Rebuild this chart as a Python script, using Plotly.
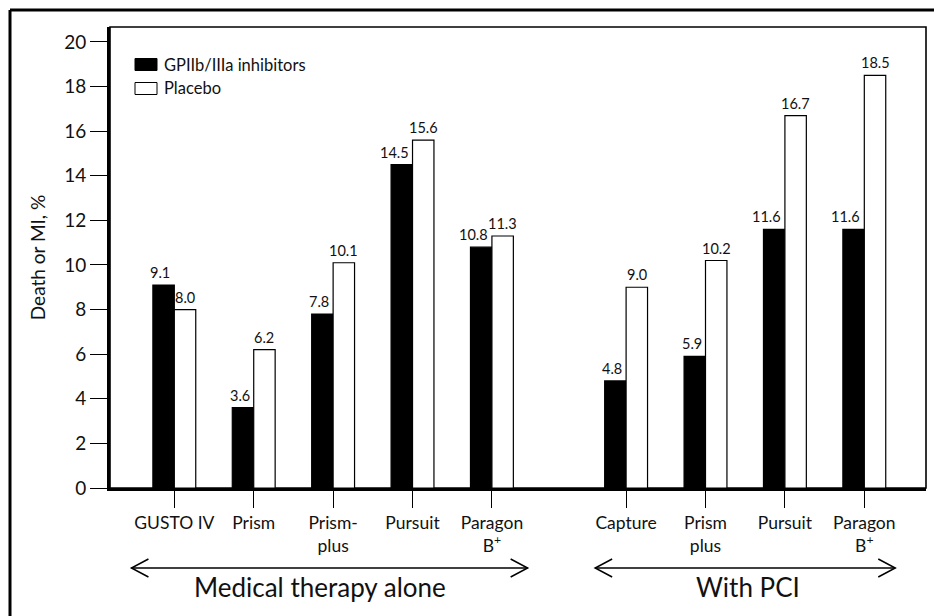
import plotly.graph_objects as go

# ---- data -------------------------------------------------------------
trials_medical = ["GUSTO IV", "Prism", "Prism-<br>plus", "Pursuit", "Paragon<br>B<sup>+</sup>"]
trials_pci = ["Capture", "Prism<br>plus", "Pursuit", "Paragon<br>B<sup>+</sup>"]

inhibitor_medical = [9.1, 3.6, 7.8, 14.5, 10.8]
placebo_medical = [8.0, 6.2, 10.1, 15.6, 11.3]
inhibitor_pci = [4.8, 5.9, 11.6, 11.6]
placebo_pci = [9.0, 10.2, 16.7, 18.5]

series_names = ["GPIIb/IIIa inhibitors", "Placebo"]
group_labels = ["Medical therapy alone", "With PCI"]
y_ticks = [0, 2, 4, 6, 8, 10, 12, 14, 16, 18, 20]
y_title = "Death or MI, %"

# ---- layout constants ---------------------------------------------------
W, H = 934, 616
ML, MR, MT, MB = 110, 8, 27, 128
PW, PH = W - ML - MR, H - MT - MB
X_RANGE = [-0.81, 9.467]
Y_RANGE = [0, 20.67]
GROUP_GAP = 0.69
BAR_W = 0.27
FONT = "Lato, 'Liberation Sans', Arial, sans-serif"
INK = "#111111"

x_medical = [float(i) for i in range(len(trials_medical))]
x_pci = [len(trials_medical) + GROUP_GAP + i for i in range(len(trials_pci))]
x_all = x_medical + x_pci
labels_all = trials_medical + trials_pci
inhibitor_all = inhibitor_medical + inhibitor_pci
placebo_all = placebo_medical + placebo_pci

ux = (X_RANGE[1] - X_RANGE[0]) / PW  # data units per pixel


def paper_x(px):
    return (px - ML) / PW


def paper_y(py):
    return (MT + PH - py) / PH


fig = go.Figure()

# bars: inhibitor to the left of each category tick, placebo to the right
fig.add_trace(go.Bar(
    x=x_all, y=inhibitor_all, name=series_names[0],
    width=BAR_W, offset=-BAR_W,
    marker=dict(color="black", line=dict(color="black", width=1.2)),
    showlegend=False, hoverinfo="x+y",
))
fig.add_trace(go.Bar(
    x=x_all, y=placebo_all, name=series_names[1],
    width=BAR_W, offset=0,
    marker=dict(color="white", line=dict(color="black", width=1.2)),
    showlegend=False, hoverinfo="x+y",
))

shapes = []
annotations = []

# value labels above the bars
for x, v in zip(x_all, inhibitor_all):
    annotations.append(dict(x=x - 2 * ux, y=v, xref="x", yref="y", text=f"{v:.1f}",
                            xanchor="right", yanchor="bottom", yshift=2, showarrow=False,
                            font=dict(family=FONT, size=14.5, color=INK)))
for x, v in zip(x_all, placebo_all):
    annotations.append(dict(x=x + BAR_W / 2, y=v, xref="x", yref="y", text=f"{v:.1f}",
                            xanchor="center", yanchor="bottom", yshift=2, showarrow=False,
                            font=dict(family=FONT, size=14.5, color=INK)))

# plot frame (thin top/right edges)
shapes.append(dict(type="rect", xref="paper", yref="paper", x0=0, x1=1, y0=0, y1=1,
                   line=dict(color="black", width=1.6), layer="below"))
# outer figure frame (left and top edges)
shapes.append(dict(type="line", xref="paper", yref="paper",
                   x0=paper_x(10), x1=paper_x(W + 20), y0=paper_y(10), y1=paper_y(10),
                   line=dict(color="black", width=3)))
shapes.append(dict(type="line", xref="paper", yref="paper",
                   x0=paper_x(10), x1=paper_x(10), y0=paper_y(10), y1=paper_y(H + 20),
                   line=dict(color="black", width=3)))

# legend
legend_rows = [(series_names[0], "black", 64.5), (series_names[1], "white", 88.5)]
for name, fill, cy in legend_rows:
    shapes.append(dict(type="rect", xref="paper", yref="paper",
                       x0=paper_x(135), x1=paper_x(157),
                       y0=paper_y(cy - 6), y1=paper_y(cy + 6),
                       fillcolor=fill, line=dict(color="black", width=1)))
    annotations.append(dict(text=name, xref="paper", yref="paper",
                            x=paper_x(162), y=paper_y(cy), xanchor="left", yanchor="middle",
                            showarrow=False, font=dict(family=FONT, size=16.5, color=INK)))

# group arrows beneath the category labels
arrow_y = paper_y(568)
head_dx = 17 * ux
head_dy = 9 / PH
groups = [
    (group_labels[0], x_medical[0] - 0.54, x_medical[-1] + 0.45, 1.84),
    (group_labels[1], x_pci[0] - 0.39, x_pci[-1] + 0.39, 7.22),
]
for label, xa, xb, xt in groups:
    shapes.append(dict(type="line", xref="x", yref="paper", x0=xa, x1=xb,
                       y0=arrow_y, y1=arrow_y, line=dict(color="black", width=1.5)))
    shapes.append(dict(type="path", xref="x", yref="paper",
                       path=f"M {xa + head_dx},{arrow_y + head_dy} L {xa},{arrow_y} L {xa + head_dx},{arrow_y - head_dy}",
                       line=dict(color="black", width=1.5)))
    shapes.append(dict(type="path", xref="x", yref="paper",
                       path=f"M {xb - head_dx},{arrow_y + head_dy} L {xb},{arrow_y} L {xb - head_dx},{arrow_y - head_dy}",
                       line=dict(color="black", width=1.5)))
    annotations.append(dict(text=label, xref="x", yref="paper", x=xt, y=paper_y(587),
                            xanchor="center", yanchor="middle", showarrow=False,
                            font=dict(family=FONT, size=26, color=INK)))

fig.update_layout(
    width=W, height=H,
    margin=dict(l=ML, r=MR, t=MT, b=MB, pad=0),
    paper_bgcolor="white", plot_bgcolor="white",
    barmode="overlay",
    shapes=shapes, annotations=annotations,
    font=dict(family=FONT, color=INK),
    xaxis=dict(
        range=X_RANGE, tickmode="array", tickvals=x_all, ticktext=labels_all,
        showgrid=False, zeroline=False,
        showline=True, linecolor="black", linewidth=3,
        ticks="outside", ticklen=17, tickwidth=1.2, tickcolor="black",
        tickfont=dict(family=FONT, size=17.5, color=INK),
    ),
    yaxis=dict(
        range=Y_RANGE, tickmode="array", tickvals=y_ticks,
        showgrid=False, zeroline=False,
        showline=True, linecolor="black", linewidth=3,
        ticks="outside", ticklen=17, tickwidth=1.2, tickcolor="black",
        tickfont=dict(family=FONT, size=19, color=INK),
        title=dict(text=y_title, font=dict(family=FONT, size=19, color=INK), standoff=14),
    ),
)

fig.write_html("out.html")
